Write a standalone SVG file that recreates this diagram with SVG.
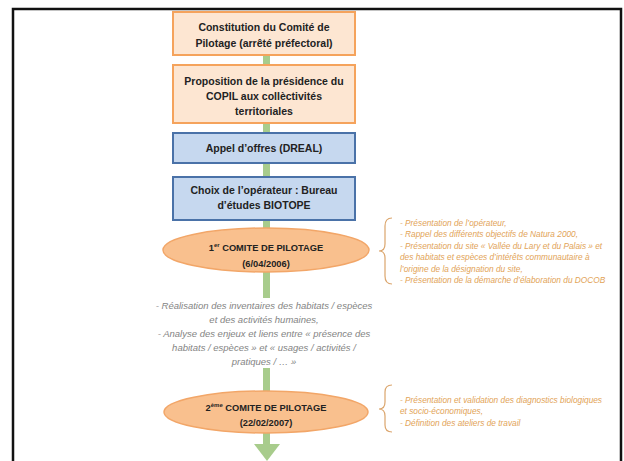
<svg xmlns="http://www.w3.org/2000/svg" width="624" height="461" viewBox="0 0 624 461">
<style>
.box-o{fill:#fde6d2;stroke:#f5a35c;stroke-width:2}
.box-b{fill:#c6d8ef;stroke:#4a72a8;stroke-width:2}
.ell{fill:#f9c08e;stroke:#f2a668;stroke-width:1.5}
.bt{font-family:"Liberation Sans",Arial,sans-serif;font-weight:bold;font-size:10.5px;fill:#222;text-anchor:middle}
.et{font-family:"Liberation Sans",Arial,sans-serif;font-weight:bold;font-size:9.3px;fill:#222;text-anchor:middle}
.gt{font-family:"Liberation Sans",Arial,sans-serif;font-style:italic;font-size:9.5px;fill:#848484;text-anchor:middle}
.ot{font-family:"Liberation Sans",Arial,sans-serif;font-style:italic;font-size:8.3px;fill:#e2a357}
.bar{fill:#a8cc8c}
.brace{fill:none;stroke:#dba56c;stroke-width:1.2}
</style>
<rect x="0" y="0" width="624" height="461" fill="#ffffff"/>
<path d="M13,461 V9 H621 V461" fill="none" stroke="#111" stroke-width="2.5"/>

<g id="connectors">
<rect class="bar" x="263" y="55" width="7" height="10"/>
<rect class="bar" x="263" y="123" width="7" height="10"/>
<rect class="bar" x="263" y="163" width="7" height="14"/>
<rect class="bar" x="263" y="220" width="7" height="9"/>
<rect class="bar" x="263" y="272" width="7" height="26"/>
<rect class="bar" x="263" y="368" width="7" height="23"/>
<rect class="bar" x="263" y="433" width="7" height="12"/>
<polygon class="bar" points="254,444 280,444 267,461"/>
</g>

<g id="node1">
<rect class="box-o" x="173" y="12" width="182" height="43"/>
<text class="bt" x="264" y="31">Constitution du Comité de</text>
<text class="bt" x="264" y="47">Pilotage (arrêté préfectoral)</text>
</g>

<g id="node2">
<rect class="box-o" x="173" y="65" width="182" height="58"/>
<text class="bt" x="264" y="85">Proposition de la présidence du</text>
<text class="bt" x="264" y="100">COPIL aux collèctivités</text>
<text class="bt" x="264" y="115">territoriales</text>
</g>

<g id="node3">
<rect class="box-b" x="173" y="133" width="182" height="30"/>
<text class="bt" x="264" y="152">Appel d’offres (DREAL)</text>
</g>

<g id="node4">
<rect class="box-b" x="173" y="177" width="182" height="43"/>
<text class="bt" x="264" y="194">Choix de l’opérateur : Bureau</text>
<text class="bt" x="264" y="209">d’études BIOTOPE</text>
</g>

<g id="node5">
<ellipse class="ell" cx="266" cy="250" rx="103" ry="22"/>
<text class="et" x="266" y="251">1<tspan font-size="6" dy="-4">er</tspan><tspan dy="4"> COMITE DE PILOTAGE</tspan></text>
<text class="et" x="266" y="267">(6/04/2006)</text>
</g>

<g id="note1">
<path class="brace" d="M392,218 Q385,218 385,226 V244 Q385,251 379,251 Q385,251 385,258 V276 Q385,284 392,284"/>
<text class="ot" x="400" y="226">- Présentation de l’opérateur,</text>
<text class="ot" x="400" y="237">- Rappel des différents objectifs de Natura 2000,</text>
<text class="ot" x="400" y="249">- Présentation du site « Vallée du Lary et du Palais » et</text>
<text class="ot" x="400" y="260">des habitats et espèces d’intérêts communautaire à</text>
<text class="ot" x="400" y="272">l’origine de la désignation du site,</text>
<text class="ot" x="400" y="283">- Présentation de la démarche d’élaboration du DOCOB</text>
</g>

<g id="node6">
<text class="gt" x="264" y="309">- Réalisation des inventaires des habitats / espèces</text>
<text class="gt" x="264" y="323">et des activités humaines,</text>
<text class="gt" x="264" y="337">- Analyse des enjeux et liens entre « présence des</text>
<text class="gt" x="264" y="351">habitats / espèces » et « usages / activités /</text>
<text class="gt" x="264" y="365">pratiques / … »</text>
</g>

<g id="node7">
<ellipse class="ell" cx="266" cy="412" rx="102" ry="21"/>
<text class="et" x="266" y="411">2<tspan font-size="6" dy="-4">ème</tspan><tspan dy="4"> COMITE DE PILOTAGE</tspan></text>
<text class="et" x="266" y="426">(22/02/2007)</text>
</g>

<g id="note2">
<path class="brace" d="M392,385 Q385,385 385,392 V402 Q385,409 379,409 Q385,409 385,416 V425 Q385,432 392,432"/>
<text class="ot" x="400" y="403">- Présentation et validation des diagnostics biologiques</text>
<text class="ot" x="400" y="414">et socio-économiques,</text>
<text class="ot" x="400" y="426">- Définition des ateliers de travail</text>
</g>
</svg>
